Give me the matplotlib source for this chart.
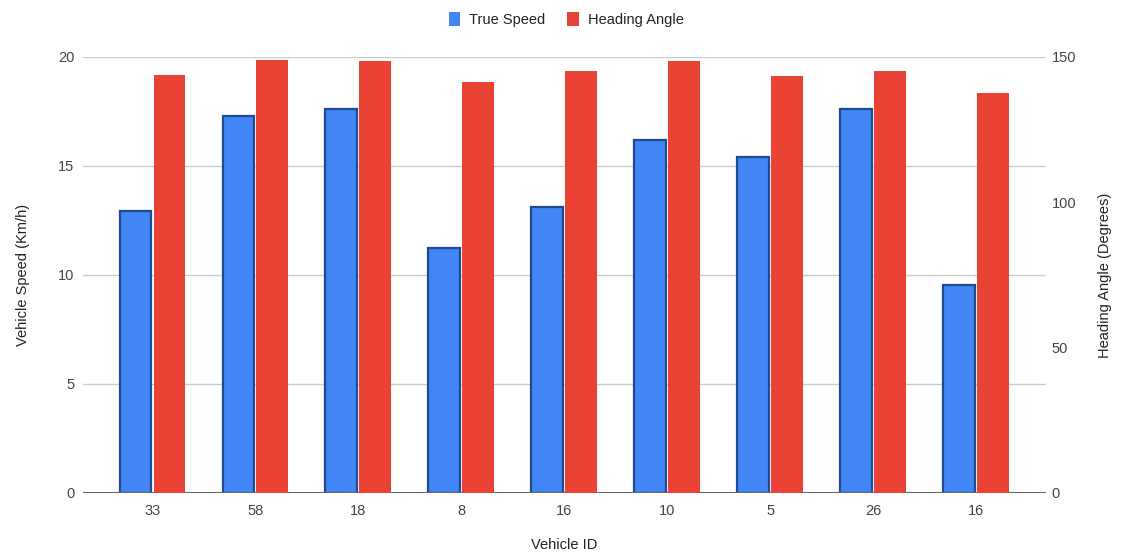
import numpy as np
import matplotlib.pyplot as plt

# Дані
vehicle_ids = ['33', '58', '18', '8', '16', '10', '5', '26', '16']
true_speed = [12.95, 17.3, 17.6, 11.24, 13.12, 16.19, 15.41, 17.6, 9.54]
heading_angle = [143.8, 149.0, 148.6, 141.4, 145.2, 148.6, 143.4, 145.2, 137.7]

plt.rcParams['font.family'] = ['Liberation Sans', 'DejaVu Sans']

fig = plt.figure(figsize=(11.21, 5.53), dpi=100)
ax = fig.add_axes([0.074, 0.1085, 0.859, 0.7885])
ax2 = ax.twinx()

x = np.arange(len(vehicle_ids))
w = 0.31

ax.bar(x - 0.165, true_speed, w, color='#4285F4', edgecolor='#1F4A92',
       linewidth=1.6, zorder=3, label='True Speed')
ax2.bar(x + 0.165, heading_angle, w, color='#EA4335', edgecolor='none',
        zorder=3, label='Heading Angle')

ax.set_xlim(-0.675, 8.675)
ax.set_ylim(0, 20)
ax2.set_ylim(0, 150)
ax.set_yticks([0, 5, 10, 15, 20])
ax2.set_yticks([0, 50, 100, 150])
ax.set_xticks(x)
ax.set_xticklabels(vehicle_ids)

ax.grid(axis='y', color='#CCCCCC', linewidth=1, zorder=0)
ax.set_axisbelow(True)
for a in (ax, ax2):
    for s in ('top', 'right', 'left', 'bottom'):
        a.spines[s].set_visible(False)
    a.tick_params(length=0, labelsize=10.5, colors='#444444')
ax.axhline(0, color='#666666', linewidth=1.5, zorder=4)
ax.tick_params(axis='y', pad=6)
ax2.tick_params(axis='y', pad=4)
ax.tick_params(axis='x', pad=8)

ax.set_xlabel('Vehicle ID', fontsize=10.5, color='#222222', labelpad=14)
ax.set_ylabel('Vehicle Speed (Km/h)', fontsize=10.5, color='#222222', labelpad=20)
ax2.set_ylabel('Heading Angle (Degrees)', fontsize=10.5, color='#222222',
               labelpad=16, rotation=90)

h1, l1 = ax.get_legend_handles_labels()
h2, l2 = ax2.get_legend_handles_labels()
leg = fig.legend(h1 + h2, l1 + l2, loc='center', bbox_to_anchor=(0.505, 0.965),
                 ncol=2, frameon=False, fontsize=10.5, handlelength=0.8,
                 handleheight=1.1, handletextpad=0.6, columnspacing=1.5)
for t in leg.get_texts():
    t.set_color('#222222')
leg.legend_handles[0].set_edgecolor('none')

fig.savefig('out.png', dpi=100)
